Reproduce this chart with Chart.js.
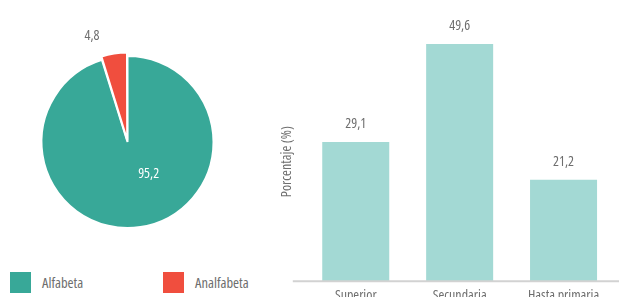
<!DOCTYPE html>
<html>
<head>
<meta charset="utf-8">
<script src="https://cdn.jsdelivr.net/npm/chart.js@4/dist/chart.umd.min.js"></script>
<style>
    html, body { margin: 0; padding: 0; background: #fff; overflow: hidden; }
    body { width: 619px; height: 297px; position: relative; }
    #pieBox { position: absolute; left: 0; top: 0; width: 255px; height: 270px; }
    #barBox { position: absolute; left: 260px; top: 0; width: 359px; height: 310px; }
    #pieLegend { position: absolute; left: 10px; top: 272px; display: flex; }
    .item { display: flex; align-items: center; width: 153px; }
    .swatch { width: 21px; height: 21px; margin-right: 11px; }
    .item span { font: condensed 14.5px "Open Sans", sans-serif; color: #6e6e6e; }
</style>
</head>
<body>
<div id="pieBox"><canvas id="pieChart"></canvas></div>
<div id="pieLegend"></div>
<div id="barBox"><canvas id="barChart"></canvas></div>

<script>
// ===== DATA =====
const pieLabels = ['Alfabeta', 'Analfabeta'];
const pieValues = [95.2, 4.8];
const pieColors = ['#38a898', '#f04e3e'];

const barLabels = ['Superior', 'Secundaria', 'Hasta primaria'];
const barValues = [29.1, 49.6, 21.2];
const barColor = '#a3d9d4';
const yTitle = 'Porcentaje (%)';

const FONT = '"Open Sans", sans-serif';
const TEXT = '#6e6e6e';

Chart.defaults.font.family = FONT;
// "condensed" lands before the size in the font string -> narrow Open Sans
Chart.defaults.font.weight = 'condensed';
Chart.defaults.color = TEXT;

const fmt = v => v.toFixed(1).replace('.', ',');

// where each pie value sits: turn from slice middle (rad), distance as share of radius
const pieLabelPlacement = [
    { turn: -0.426, dist: 0.45, color: '#ffffff' },
    { turn: -0.172, dist: 1.30, color: TEXT },
];

const pieValueLabels = {
    id: 'pieValueLabels',
    afterDatasetsDraw(chart) {
        const ctx = chart.ctx;
        ctx.save();
        ctx.font = 'condensed 14px ' + FONT;
        ctx.textAlign = 'center';
        ctx.textBaseline = 'middle';
        chart.getDatasetMeta(0).data.forEach((arc, i) => {
            const p = arc.getProps(['x', 'y', 'startAngle', 'endAngle', 'outerRadius'], true);
            const place = pieLabelPlacement[i];
            const a = (p.startAngle + p.endAngle) / 2 + place.turn;
            const r = p.outerRadius * place.dist;
            ctx.fillStyle = place.color;
            ctx.fillText(fmt(pieValues[i]), p.x + Math.cos(a) * r, p.y + Math.sin(a) * r);
        });
        ctx.restore();
    }
};

const barExtras = {
    id: 'barExtras',
    afterDatasetsDraw(chart) {
        const ctx = chart.ctx;
        const y0 = chart.scales.y.getPixelForValue(0);
        ctx.save();
        ctx.strokeStyle = '#d2d2d2';
        ctx.lineWidth = 2;
        ctx.beginPath();
        ctx.moveTo(chart.chartArea.left - 11, y0);
        ctx.lineTo(chart.width, y0);
        ctx.stroke();

        ctx.font = 'condensed 14px ' + FONT;
        ctx.fillStyle = TEXT;
        ctx.textAlign = 'center';
        ctx.textBaseline = 'middle';
        chart.getDatasetMeta(0).data.forEach((bar, i) => {
            ctx.fillText(fmt(barValues[i]), bar.x, bar.y - 18);
        });
        ctx.restore();
    }
};

new Chart(document.getElementById('pieChart'), {
    type: 'pie',
    data: {
        labels: pieLabels,
        datasets: [{
            data: pieValues,
            backgroundColor: pieColors,
            borderColor: '#ffffff',
            borderWidth: 2,
            offset: [0, 8],
        }]
    },
    options: {
        responsive: true,
        maintainAspectRatio: false,
        animation: false,
        events: [],
        radius: 86,
        layout: { padding: { top: 14, bottom: 0 } },
        plugins: { legend: { display: false }, tooltip: { enabled: false } }
    },
    plugins: [pieValueLabels]
});

// html legend for the pie
const legendEl = document.getElementById('pieLegend');
pieLabels.forEach((name, i) => {
    const item = document.createElement('div');
    item.className = 'item';
    item.innerHTML = '<div class="swatch" style="background:' + pieColors[i] + '"></div><span>' + name + '</span>';
    legendEl.appendChild(item);
});

new Chart(document.getElementById('barChart'), {
    type: 'bar',
    data: {
        labels: barLabels,
        datasets: [{
            data: barValues,
            backgroundColor: barColor,
            categoryPercentage: 1,
            barPercentage: 0.645,
        }]
    },
    options: {
        responsive: true,
        maintainAspectRatio: false,
        animation: false,
        events: [],
        layout: { padding: { top: 42, right: 3.5, left: 15, bottom: 5 } },
        plugins: { legend: { display: false }, tooltip: { enabled: false } },
        scales: {
            y: {
                min: 0,
                max: 50,
                ticks: { display: false },
                grid: { display: false },
                border: { display: false },
                title: { display: true, text: yTitle, color: TEXT, font: { size: 14 }, padding: { top: 4, bottom: 0 } }
            },
            x: {
                grid: { display: false, tickLength: 5 },
                border: { display: false },
                ticks: { color: TEXT, font: { size: 14 }, padding: 1 }
            }
        }
    },
    plugins: [barExtras]
});
</script>
</body>
</html>
